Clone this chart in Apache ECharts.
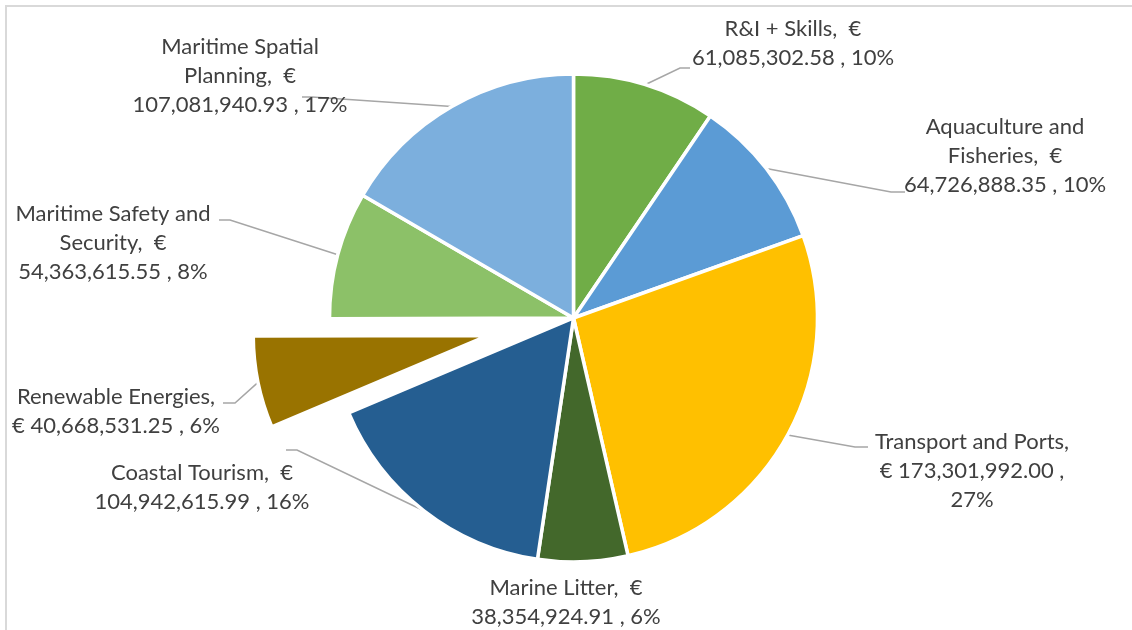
<!DOCTYPE html>
<html>
<head>
<meta charset="utf-8">
<script src="https://cdn.jsdelivr.net/npm/echarts@6/dist/echarts.min.js"></script>
<style>
  html, body { margin: 0; padding: 0; background: #fff; }
  #chart { width: 1132px; height: 630px; }
</style>
</head>
<body>
<div id="chart"></div>
<script>
// ---- data ----
const categories = [
  'R&I + Skills',
  'Aquaculture and\nFisheries',
  'Transport and Ports',
  'Marine Litter',
  'Coastal Tourism',
  'Renewable Energies',
  'Maritime Safety and\nSecurity',
  'Maritime Spatial\nPlanning'
];
const values = [
  61085302.58,
  64726888.35,
  173301992.00,
  38354924.91,
  104942615.99,
  40668531.25,
  54363615.55,
  107081940.93
];
// how each Excel data label wraps: {n}=name, {v}=value, {p}=percent
const labelTemplates = [
  '{n},  €\n{v} , {p}%',
  '{n},  €\n{v} , {p}%',
  '{n},\n€ {v} ,\n{p}%',
  '{n},  €\n{v} , {p}%',
  '{n},  €\n{v} , {p}%',
  '{n},\n€ {v} , {p}%',
  '{n},  €\n{v} , {p}%',
  '{n},  €\n{v} , {p}%'
];
const explodedIndex = 5;

// ---- style / layout ----
const colors = ['#70AD47', '#5B9BD5', '#FFC000', '#43682B', '#255E91', '#997300', '#8CC168', '#7CAFDD'];
// label block centres
const labelPos = [
  [793, 43], [1005, 156], [972, 471], [566, 602],
  [202, 487], [116, 411], [113, 243], [240, 76]
];
// where each leader line meets its label (relative to the label centre) and the length of its last flat segment
const leaderEnd = [
  [-103, 25, 10], [-100, 36, 14], [-104, -24, 13], null,
  [84, -37, 11], [107, -8, 12], [106, -23, 11], [62, 21, 10]
];
const center = [573.5, 318];
const radius = 244;
const explodedRadius = 235;
const explodeDist = 87;

// offset of the exploded slice along its middle angle (clockwise from 12 o'clock)
const total = values.reduce((a, b) => a + b, 0);
const before = values.slice(0, explodedIndex).reduce((a, b) => a + b, 0);
const midAngle = (before + values[explodedIndex] / 2) / total * 2 * Math.PI;
const explodedCenter = [
  center[0] + explodeDist * Math.sin(midAngle),
  center[1] - explodeDist * Math.cos(midAngle)
];

function fmtLabel(p) {
  const v = p.value.toLocaleString('en-US', { minimumFractionDigits: 2, maximumFractionDigits: 2 });
  return labelTemplates[p.dataIndex]
    .replace('{n}', p.name).replace('{v}', v).replace('{p}', Math.round(p.percent));
}

const labelStyle = {
  show: true,
  formatter: fmtLabel,
  fontFamily: 'Lato',
  fontSize: 22,
  lineHeight: 29,
  color: '#404040',
  align: 'center'
};
const lineStyle = { color: '#A6A6A6', width: 1.5 };

function makeData(forExploded) {
  return categories.map((name, i) => {
    const visible = forExploded ? i === explodedIndex : i !== explodedIndex;
    const item = { name: name, value: values[i] };
    if (visible) {
      item.itemStyle = { color: colors[i] };
      if (!leaderEnd[i]) item.labelLine = { show: false };
    } else {
      item.itemStyle = { color: 'rgba(0,0,0,0)', borderWidth: 0 };
      item.label = { show: false };
      item.labelLine = { show: false };
    }
    return item;
  });
}

const layoutFn = function (params) {
  const i = params.dataIndex;
  const p = labelPos[i];
  const res = { x: p[0], y: p[1], align: 'center', verticalAlign: 'middle' };
  const e = leaderEnd[i];
  if (e && params.labelLinePoints) {
    const start = params.labelLinePoints[0];
    const end = [p[0] + e[0], p[1] + e[1]];
    const bend = [end[0] + (e[0] < 0 ? -e[2] : e[2]), end[1]];
    res.labelLinePoints = [start, bend, end];
  }
  return res;
};

function pieSeries(c, r, forExploded) {
  return {
    type: 'pie',
    center: c,
    radius: [0, r],
    startAngle: 90,
    clockwise: true,
    percentPrecision: 0,
    silent: true,
    avoidLabelOverlap: false,
    itemStyle: { borderColor: '#ffffff', borderWidth: 3.5 },
    label: labelStyle,
    labelLine: { show: true, length: 15, length2: 10, lineStyle: lineStyle },
    labelLayout: layoutFn,
    emphasis: { disabled: true },
    data: makeData(forExploded)
  };
}

const chart = echarts.init(document.getElementById('chart'), null, { renderer: 'canvas' });
chart.setOption({
  animation: false,
  backgroundColor: '#ffffff',
  graphic: [{
    type: 'rect', silent: true, z: 100,
    shape: { x: 6, y: 6, width: 1300, height: 800 },
    style: { fill: 'none', stroke: '#D9D9D9', lineWidth: 2 }
  }],
  series: [
    pieSeries(center, radius, false),
    pieSeries(explodedCenter, explodedRadius, true)
  ]
});
</script>
</body>
</html>
